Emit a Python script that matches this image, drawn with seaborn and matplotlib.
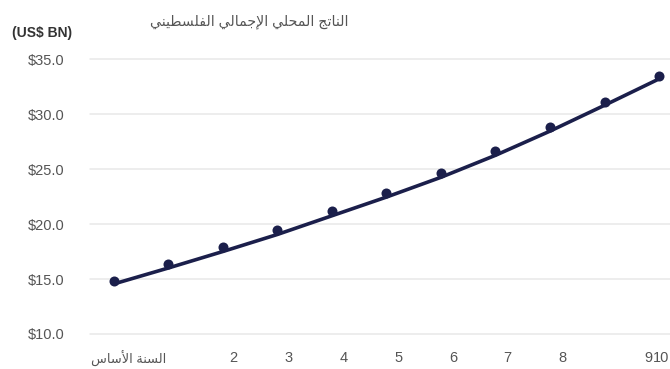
import numpy as np
import pandas as pd
import matplotlib
matplotlib.use("Agg")
import matplotlib.pyplot as plt
import seaborn as sns

# data
years = list(range(11))
gdp = [14.8, 16.4, 17.9, 19.45, 21.2, 22.8, 24.6, 26.6, 28.8, 31.1, 33.5]
trend = [14.55, 16.0, 17.5, 19.05, 20.75, 22.45, 24.25, 26.25, 28.45, 30.8, 33.2]
tick_pos = [0.28, 2.2, 3.21, 4.22, 5.23, 6.22, 7.21, 8.22, 9.8, 10.04]
tick_labels = ['السنة الأساس', '2', '3', '4', '5', '6', '7', '8', '9', '10']
y_ticks = [10, 15, 20, 25, 30, 35]
title = 'الناتج المحلي الإجمالي الفلسطيني'
unit_label = '(US$ BN)'

# minimal arabic shaping (matplotlib has no complex text layout)
ARABIC_FORMS = {
    'ا': ('\uFE8D', '\uFE8E', None, None),
    'أ': ('\uFE83', '\uFE84', None, None),
    'إ': ('\uFE87', '\uFE88', None, None),
    'ة': ('\uFE93', '\uFE94', None, None),
    'ت': ('\uFE95', '\uFE96', '\uFE97', '\uFE98'),
    'ج': ('\uFE9D', '\uFE9E', '\uFE9F', '\uFEA0'),
    'ح': ('\uFEA1', '\uFEA2', '\uFEA3', '\uFEA4'),
    'س': ('\uFEB1', '\uFEB2', '\uFEB3', '\uFEB4'),
    'ط': ('\uFEC1', '\uFEC2', '\uFEC3', '\uFEC4'),
    'ف': ('\uFED1', '\uFED2', '\uFED3', '\uFED4'),
    'ل': ('\uFEDD', '\uFEDE', '\uFEDF', '\uFEE0'),
    'م': ('\uFEE1', '\uFEE2', '\uFEE3', '\uFEE4'),
    'ن': ('\uFEE5', '\uFEE6', '\uFEE7', '\uFEE8'),
    'ي': ('\uFEF1', '\uFEF2', '\uFEF3', '\uFEF4'),
    'لأ': ('\uFEF7', '\uFEF8', None, None),
    'لإ': ('\uFEF9', '\uFEFA', None, None),
    'لا': ('\uFEFB', '\uFEFC', None, None),
}


def shape(text):
    units = []
    i = 0
    while i < len(text):
        if text[i:i + 2] in ARABIC_FORMS:
            units.append(text[i:i + 2])
            i += 2
        else:
            units.append(text[i])
            i += 1
    if not any(u in ARABIC_FORMS for u in units):
        return text
    out = []
    for k, u in enumerate(units):
        if u not in ARABIC_FORMS:
            out.append(u)
            continue
        iso, fin, ini, med = ARABIC_FORMS[u]
        prev = units[k - 1] if k > 0 else None
        nxt = units[k + 1] if k + 1 < len(units) else None
        join_prev = prev in ARABIC_FORMS and ARABIC_FORMS[prev][2] is not None
        join_next = ini is not None and nxt in ARABIC_FORMS
        if join_prev and join_next:
            out.append(med)
        elif join_prev:
            out.append(fin)
        elif join_next:
            out.append(ini)
        else:
            out.append(iso)
    return ''.join(reversed(out))


sns.set_theme(style="whitegrid")
plt.rcParams['font.family'] = ['Liberation Sans', 'DejaVu Sans']

navy = '#1b1f4b'
df = pd.DataFrame({'year': years, 'gdp': gdp, 'trend': trend})

fig = plt.figure(figsize=(6.7, 3.69), dpi=100)
ax = fig.add_axes([0.134, 0.0949, 0.866, 0.745])

sns.lineplot(data=df, x='year', y='trend', ax=ax, color=navy, linewidth=2.6)
sns.scatterplot(data=df, x='year', y='gdp', ax=ax, color=navy, s=52,
                edgecolor=navy, linewidth=0, zorder=3)

ax.set_xlim(-0.44, 10.2)
ax.set_ylim(10, 35)
ax.set_yticks(y_ticks)
ax.set_yticklabels(['\\$' + f'{v:.1f}' for v in y_ticks], fontsize=10.5, color='#555555')
ax.set_xticks(tick_pos)
ax.set_xticklabels([shape(t) for t in tick_labels], fontsize=10.5, color='#555555')
ax.get_xticklabels()[0].set_fontsize(9.3)
ax.tick_params(axis='y', length=0, pad=18)
ax.tick_params(axis='x', length=0, pad=12)
ax.grid(axis='x', visible=False)
ax.grid(axis='y', color='#e8e8e8', linewidth=1.1)
for gl in ax.get_ygridlines():
    gl.set_clip_on(False)
for s in ax.spines.values():
    s.set_visible(False)
ax.set_xlabel('')
ax.set_ylabel('')

fig.text(0.018, 0.91, unit_label.replace('$', '\\$'), fontsize=10, fontweight='bold',
         color='#333333', ha='left', va='center')
fig.text(0.372, 0.94, shape(title), fontsize=10.2, color='#555555',
         ha='center', va='center')

fig.savefig('out.png', dpi=100, facecolor='white')
